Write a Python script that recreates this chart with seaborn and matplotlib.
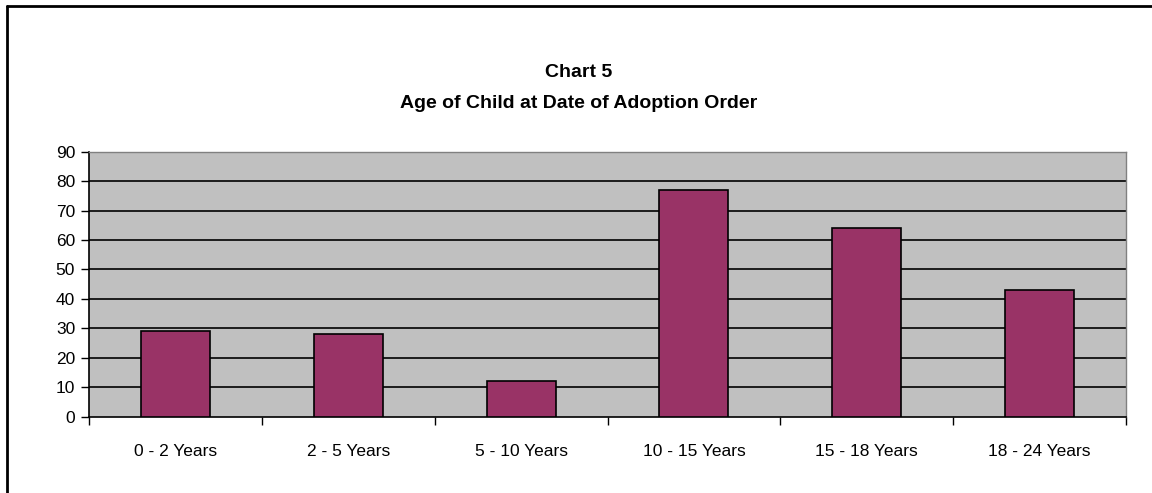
import matplotlib
matplotlib.use("Agg")
import matplotlib.pyplot as plt
import seaborn as sns
import pandas as pd
from matplotlib.lines import Line2D

# data
categories = ["0 - 2 Years", "2 - 5 Years", "5 - 10 Years", "10 - 15 Years", "15 - 18 Years", "18 - 24 Years"]
counts = [29, 28, 12, 77, 64, 43]
yticks = list(range(0, 91, 10))

df = pd.DataFrame({"age": categories, "count": counts})

sns.set_style("white")
plt.rcParams["font.family"] = ["Liberation Sans", "DejaVu Sans"]
plt.rcParams["text.color"] = "black"
plt.rcParams["xtick.color"] = "black"
plt.rcParams["ytick.color"] = "black"

fig = plt.figure(figsize=(11.52, 4.93), dpi=100)
ax = fig.add_axes([0.0773, 0.1548, 0.9001, 0.5375])
ax.set_facecolor("#C0C0C0")

sns.barplot(data=df, x="age", y="count", color="#993366", width=0.4,
            edgecolor="black", linewidth=1.2, saturation=1, ax=ax, zorder=3)

ax.set_ylim(0, 90)
ax.set_xlim(-0.5, len(categories) - 0.5)
ax.set_yticks(yticks)
for y in yticks[1:]:
    ax.axhline(y, color="black", linewidth=1.2, zorder=1)

ax.set_xlabel("")
ax.set_ylabel("")
ax.tick_params(axis="y", which="major", direction="out", length=6, width=1, color="black",
               labelsize=12.5, labelcolor="black", pad=4, left=True)
ax.set_xticks([i + 0.5 for i in range(-1, len(categories))], minor=True)
ax.tick_params(axis="x", which="minor", direction="out", length=6, width=1, color="black", bottom=True)
ax.tick_params(axis="x", which="major", length=0, labelsize=12.5, labelcolor="black", pad=20)

for s in ["left", "bottom"]:
    ax.spines[s].set_color("black")
    ax.spines[s].set_linewidth(1.2)
for s in ["top", "right"]:
    ax.spines[s].set_color("#808080")
    ax.spines[s].set_linewidth(1)

fig.text(0.502, 0.853, "Chart 5", ha="center", va="center", fontsize=14, fontweight="bold", color="black")
fig.text(0.502, 0.79, "Age of Child at Date of Adoption Order", ha="center", va="center",
         fontsize=14, fontweight="bold", color="black")

# outer frame (left and top only visible)
fig.add_artist(Line2D([6.5 / 1152, 6.5 / 1152], [0, 1 - 5.5 / 493], transform=fig.transFigure,
                      color="black", linewidth=2))
fig.add_artist(Line2D([6.5 / 1152, 1], [1 - 5.5 / 493, 1 - 5.5 / 493], transform=fig.transFigure,
                      color="black", linewidth=2))

fig.savefig("out.png", dpi=100, facecolor="white")
